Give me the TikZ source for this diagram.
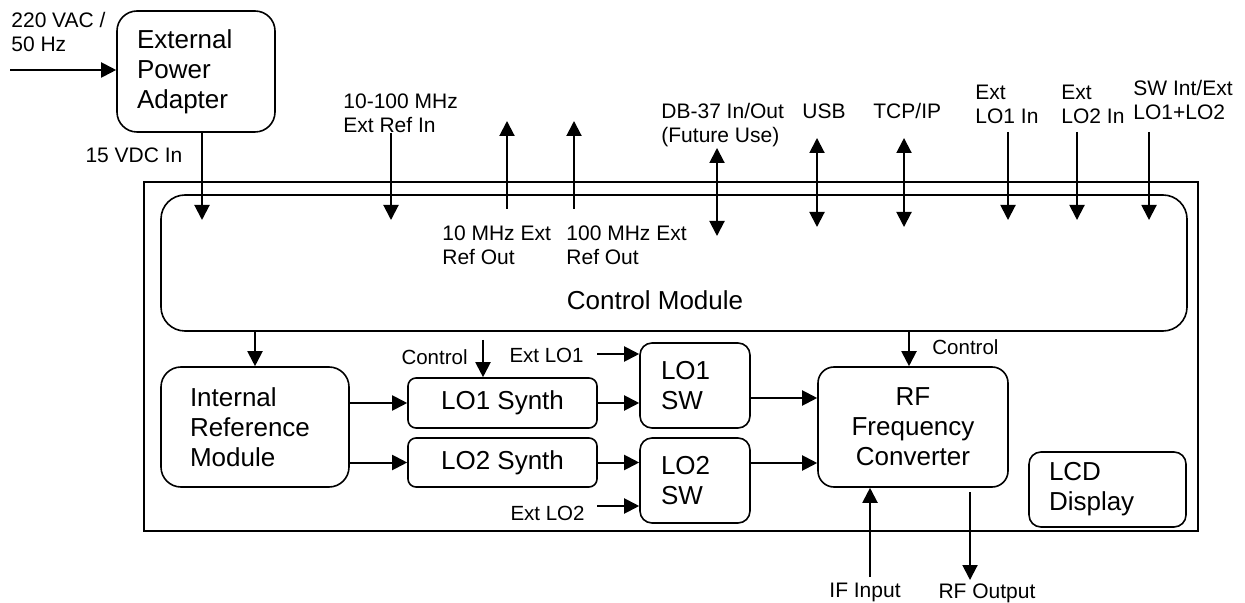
\documentclass[tikz,border=0pt]{standalone}
\usepackage{fontspec}
\setmainfont{Liberation Sans}
\usetikzlibrary{arrows.meta}

\tikzset{
  blk/.style={draw, line width=0.8pt, rounded corners=6pt, font=\fontsize{13}{15}\selectfont},
  lbl/.style={font=\fontsize{10.5}{12}\selectfont, inner sep=0pt, align=left},
  slbl/.style={font=\fontsize{10.25}{12}\selectfont, inner sep=0pt},
  arr/.style={line width=1pt, -{Triangle[length=7.5pt,width=7.5pt]}},
  darr/.style={line width=1pt, {Triangle[length=7.5pt,width=7.5pt]}-{Triangle[length=7.5pt,width=7.5pt]}},
}

\begin{document}
\begin{tikzpicture}[x=0.5pt, y=-0.5pt]
\useasboundingbox (0,0) rectangle (1245,603);

% chassis
\draw[line width=0.8pt] (144,182) rectangle (1198,531);

% blocks
\node[blk, rounded corners=10pt, text width=59pt, inner xsep=10pt, minimum height=60.5pt, align=left] (adapter) at (196,71.5) {External\\Power\\Adapter};
\node[blk, rounded corners=12pt, minimum width=513pt, minimum height=68pt] (ctrl) at (674,263) {};
\node[font=\fontsize{13}{15}\selectfont, inner sep=0pt] (ctrltxt) at (655,300) {Control Module};
\node[blk, rounded corners=10pt, text width=65pt, inner xsep=14.5pt, minimum height=60pt, align=left] (irm) at (255,427) {Internal\\Reference\\Module};
\node[blk, rounded corners=4pt, minimum width=94.5pt, minimum height=25pt] (lo1syn) at (502.5,403) {LO1 Synth};
\node[blk, rounded corners=4pt, minimum width=94.5pt, minimum height=24.5pt] (lo2syn) at (502.5,462.5) {LO2 Synth};
\node[blk, text width=34pt, inner xsep=10.5pt, minimum height=42.5pt, align=left] (lo1sw) at (695,385.5) {LO1\\SW};
\node[blk, text width=34pt, inner xsep=10.5pt, minimum height=42.5pt, align=left] (lo2sw) at (695,480.5) {LO2\\SW};
\node[blk, rounded corners=8pt, minimum width=95pt, minimum height=60pt, align=center] (rf) at (913,427) {RF\\Frequency\\Converter};
\node[blk, text width=58.5pt, inner xsep=10pt, minimum height=37.5pt, align=left] (lcd) at (1107.5,489.5) {LCD\\Display};

% power in
\node[lbl, anchor=north west] (acin) at (11,12) {220 VAC /\\50 Hz};
\coordinate (acsrc) at (10,70);
\draw[arr] (acsrc) -- (acsrc -| adapter.west);
\node[lbl] (vdc) at (134,155) {15 VDC In};
\coordinate (vdcin) at (202,220);
\draw[arr] (adapter.south -| vdcin) -- (vdcin);

% front panel ports
\node[lbl, anchor=north west] (refin) at (343,93) {10-100 MHz\\Ext Ref In};
\coordinate (refinA) at (391,133);
\coordinate (refinB) at (391,220);
\draw[arr] (refinA) -- (refinB);

\node[lbl, anchor=north west] (ref10) at (442,225) {10 MHz Ext\\Ref Out};
\coordinate (ref10A) at (507,209);
\coordinate (ref10B) at (507,121);
\draw[arr] (ref10A) -- (ref10B);

\node[lbl, anchor=north west] (ref100) at (566,225) {100 MHz Ext\\Ref Out};
\coordinate (ref100A) at (574,209);
\coordinate (ref100B) at (574,121);
\draw[arr] (ref100A) -- (ref100B);

\node[lbl, anchor=north west] (db37) at (661,103) {DB-37 In/Out\\(Future Use)};
\coordinate (db37A) at (717,148);
\coordinate (db37B) at (717,236);
\draw[darr] (db37A) -- (db37B);

\node[lbl, anchor=north west] (usb) at (802,103) {USB};
\coordinate (usbA) at (817,138);
\coordinate (usbB) at (817,227);
\draw[darr] (usbA) -- (usbB);

\node[lbl, anchor=north west] (tcp) at (873,103) {TCP/IP};
\coordinate (tcpA) at (904,138);
\coordinate (tcpB) at (904,227);
\draw[darr] (tcpA) -- (tcpB);

\node[lbl, anchor=north west] (lo1in) at (975,85) {Ext\\LO1 In};
\coordinate (lo1inA) at (1008,132);
\coordinate (lo1inB) at (1008,220);
\draw[arr] (lo1inA) -- (lo1inB);

\node[lbl, anchor=north west] (lo2in) at (1061,85) {Ext\\LO2 In};
\coordinate (lo2inA) at (1077,132);
\coordinate (lo2inB) at (1077,220);
\draw[arr] (lo2inA) -- (lo2inB);

\node[lbl, anchor=north west] (swlo) at (1133,80) {SW Int/Ext\\LO1+LO2};
\coordinate (swloA) at (1149,132);
\coordinate (swloB) at (1149,220);
\draw[arr] (swloA) -- (swloB);

% internal signals
\draw[arr] (irm.north |- ctrl.south) -- (irm.north);
\node[slbl, anchor=east] (ctl1txt) at (468,357.5) {Control};
\coordinate (ctl1) at (483,340);
\draw[arr] (ctl1) -- (ctl1 |- lo1syn.north);
\node[slbl, anchor=east] (extlo1) at (584,355.5) {Ext LO1};
\coordinate (extlo1a) at (597,354);
\draw[arr] (extlo1a) -- (extlo1a -| lo1sw.west);
\node[slbl, anchor=east] (extlo2) at (585,513) {Ext LO2};
\coordinate (extlo2a) at (597,506);
\draw[arr] (extlo2a) -- (extlo2a -| lo2sw.west);

\draw[arr] (irm.east |- lo1syn.west) -- (lo1syn.west);
\draw[arr] (irm.east |- lo2syn.west) -- (lo2syn.west);
\draw[arr] (lo1syn.east) -- (lo1syn.east -| lo1sw.west);
\draw[arr] (lo2syn.east) -- (lo2syn.east -| lo2sw.west);

\coordinate (sw1o) at ([yshift=-6.25pt]lo1sw.east);
\coordinate (sw2o) at ([yshift=8.75pt]lo2sw.east);
\draw[arr] (sw1o) -- (sw1o -| rf.west);
\draw[arr] (sw2o) -- (sw2o -| rf.west);

\coordinate (ctl2) at (909,340);
\draw[arr] (ctl2 |- ctrl.south) -- (ctl2 |- rf.north);
\node[slbl, anchor=west] (ctl2txt) at (932,347) {Control};

% IF / RF
\coordinate (ifsrc) at (870,577);
\draw[arr] (ifsrc) -- (ifsrc |- rf.south);
\node[lbl, anchor=north] (iftxt) at (865,583) {IF Input};
\coordinate (rfoA) at (970,492);
\coordinate (rfoB) at (970,580);
\draw[arr] (rfoA) -- (rfoB);
\node[lbl, anchor=north] (rfotxt) at (987,583) {RF Output};
\end{tikzpicture}
\end{document}
